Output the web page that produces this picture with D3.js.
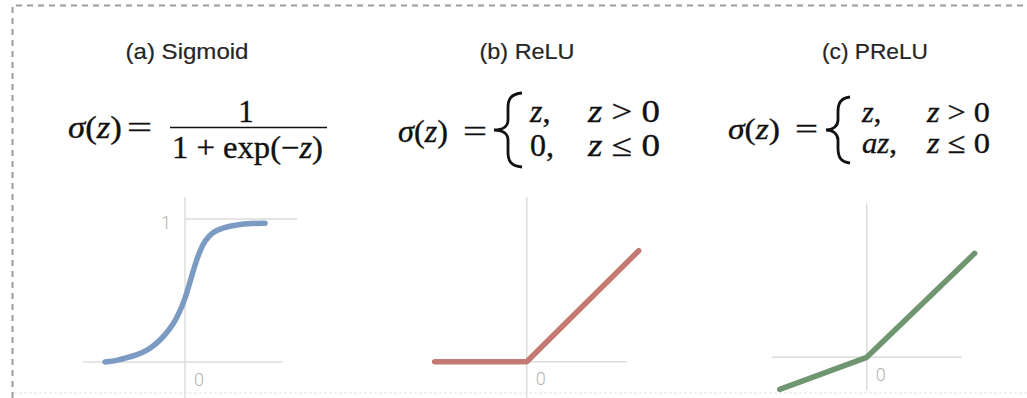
<!DOCTYPE html>
<html>
<head>
<meta charset="utf-8">
<script src="https://cdn.jsdelivr.net/npm/d3@7/dist/d3.min.js"></script>
<style>
  html, body { margin: 0; padding: 0; background: #fff; }
  svg { display: block; }
</style>
</head>
<body>
<script>
// Panel titles
const titles = ["(a) Sigmoid", "(b) ReLU", "(c) PReLU"];

// Sigmoid curve samples (z, σ(z))
const sigmoidZ   = [-4.0, -3.4, -2.9, -2.4, -1.9, -1.4, -1.0, -0.6, -0.3, 0.0, 0.25, 0.5, 0.75, 1.0, 1.4, 1.9, 2.6, 3.3, 4.0];
const sigmoidVal = [0.00, 0.01, 0.03, 0.05, 0.08, 0.13, 0.19, 0.26, 0.34, 0.44, 0.56, 0.68, 0.78, 0.85, 0.91, 0.94, 0.96, 0.97, 0.97];

// ReLU polyline (z, σ(z))
const reluZ   = [-4.6, 0, 5.6];
const reluVal = [0, 0, 5.55];

// PReLU polyline (z, σ(z)), slope a on the negative side
const preluZ   = [-4.35, 0, 5.4];
const preluVal = [-1.6, 0, 5.2];

// Axis tick labels
const sigmoidTicks = [{ v: 0, label: "0" }, { v: 1, label: "1" }];
const reluTicks = [{ v: 0, label: "0" }];
const preluTicks = [{ v: 0, label: "0" }];

const W = 1027, H = 398;
const svg = d3.select("body").append("svg").attr("width", W).attr("height", H);

// dashed frame around the figure
svg.append("path")
  .attr("d", `M12.5,${H} V5.5 H${W}`)
  .attr("fill", "none")
  .attr("stroke", "#9c9c9c")
  .attr("stroke-width", 2)
  .attr("stroke-dasharray", "6,5");
svg.append("line")
  .attr("x1", 14).attr("x2", W).attr("y1", 393).attr("y2", 393)
  .attr("stroke", "#eeeeee").attr("stroke-width", 1.5)
  .attr("stroke-dasharray", "3,2");

const titleFont = "'Liberation Sans', Arial, Helvetica, sans-serif";
const mathFont = "'Liberation Serif', 'Times New Roman', serif";
const tickFont = "Roboto, 'Open Sans', sans-serif";

// titles
const titleX = [187, 527, 875];
const titleW = [123, 95, 106];
titles.forEach((t, i) => {
  svg.append("text")
    .attr("x", titleX[i] - titleW[i] / 2).attr("y", 59)
    .attr("textLength", titleW[i]).attr("lengthAdjust", "spacingAndGlyphs")
    .attr("font-family", titleFont).attr("font-size", 21.5)
    .attr("fill", "#262626")
    .attr("stroke", "#262626").attr("stroke-width", 0.2)
    .text(t);
});

// helper: text made of pieces, italic where flagged
function mathText(x, y, size, parts, len) {
  const t = svg.append("text")
    .attr("x", x).attr("y", y)
    .attr("font-family", mathFont).attr("font-size", size)
    .attr("fill", "#111")
    .attr("stroke", "#111").attr("stroke-width", 0.35);
  if (len) t.attr("textLength", len).attr("lengthAdjust", "spacingAndGlyphs");
  parts.forEach(p => {
    t.append("tspan").attr("font-style", p[1] ? "italic" : "normal").text(p[0]);
  });
  return t;
}
const sigmaZ = [["σ", true], ["(", false], ["z", true], [")", false]];

function brace(cx, cy, h, w) {
  const p = `M${cx + w},${cy - h}
    C${cx + 2},${cy - h + 1} ${cx},${cy - h + 7} ${cx},${cy - h + 15}
    L${cx},${cy - 10}
    C${cx},${cy - 4} ${cx - 5},${cy} ${cx - w},${cy}
    C${cx - 5},${cy} ${cx},${cy + 4} ${cx},${cy + 10}
    L${cx},${cy + h - 15}
    C${cx},${cy + h - 7} ${cx + 2},${cy + h - 1} ${cx + w},${cy + h}`;
  svg.append("path").attr("d", p).attr("fill", "none")
    .attr("stroke", "#111").attr("stroke-width", 2.8);
}

// (a) sigmoid formula
mathText(68, 138, 31, sigmaZ, 54);
mathText(127, 138, 31, [["=", false]], 25);
mathText(246, 122, 31, [["1", false]]).attr("text-anchor", "middle");
svg.append("line").attr("x1", 170).attr("x2", 327).attr("y1", 127.5).attr("y2", 127.5)
  .attr("stroke", "#111").attr("stroke-width", 1.5);
mathText(172, 158, 31, [["1 + exp(−", false], ["z", true], [")", false]], 151);

// (b) ReLU formula
mathText(398, 142, 32, sigmaZ, 50);
mathText(463, 142, 32, [["=", false]], 24);
brace(508, 130, 37, 14);
mathText(530, 122, 32, [["z", true], [",", false]]);
mathText(588, 122, 32, [["z", true], [" > 0", false]], 72);
mathText(530, 156, 32, [["0,", false]]);
mathText(588, 156, 32, [["z", true], [" ≤ 0", false]], 72);

// (c) PReLU formula
mathText(728, 139, 30, sigmaZ, 52);
mathText(795, 139, 30, [["=", false]], 23);
brace(838, 130, 33, 12);
mathText(862, 122, 30, [["z", true], [",", false]]);
mathText(927, 122, 30, [["z", true], [" > 0", false]], 63);
mathText(862, 153, 30, [["az", true], [",", false]], 35);
mathText(927, 153, 30, [["z", true], [" ≤ 0", false]], 63);

// plots
const gridColor = "#dcdcdc";
const tickColor = "#b4b4b4";

function panel(cfg) {
  const x = d3.scaleLinear().domain([-5, 5]).range(cfg.xRange);
  const y = d3.scaleLinear().domain(cfg.yDomain).range(cfg.yRange);
  const g = svg.append("g");
  // horizontal axis
  g.append("line")
    .attr("x1", x(cfg.hExtent[0])).attr("x2", x(cfg.hExtent[1]))
    .attr("y1", y(0)).attr("y2", y(0))
    .attr("stroke", gridColor).attr("stroke-width", 1.4);
  // upper reference line
  if (cfg.topExtent) {
    g.append("line")
      .attr("x1", x(cfg.topExtent[0])).attr("x2", x(cfg.topExtent[1]))
      .attr("y1", y(1)).attr("y2", y(1))
      .attr("stroke", gridColor).attr("stroke-width", 1.4);
  }
  // vertical axis
  g.append("line")
    .attr("x1", x(0)).attr("x2", x(0))
    .attr("y1", y(cfg.vExtent[0])).attr("y2", y(cfg.vExtent[1]))
    .attr("stroke", gridColor).attr("stroke-width", 1.4);
  // tick labels
  cfg.ticks.forEach(t => {
    const tx = t.v === 0 ? x(0) + 14 : x(0) - 19;
    const ty = t.v === 0 ? y(0) + 17 : y(1) + 3;
    g.append("text")
      .attr("x", tx).attr("y", ty)
      .attr("text-anchor", "middle").attr("dominant-baseline", "central")
      .attr("font-family", tickFont).attr("font-weight", 300)
      .attr("font-size", 18).attr("fill", tickColor)
      .text(t.label);
  });
  // function curve
  const pts = cfg.zs.map((z, i) => [z, cfg.vs[i]]);
  g.append("path")
    .attr("d", d3.line().x(d => x(d[0])).y(d => y(d[1])).curve(cfg.curve)(pts))
    .attr("fill", "none")
    .attr("stroke", cfg.color).attr("stroke-width", 5.5)
    .attr("stroke-linecap", "round").attr("stroke-linejoin", "round");
}

panel({
  xRange: [85, 285], yDomain: [0, 1], yRange: [362, 219],
  hExtent: [-5.1, 4.9], topExtent: [0, 5.6], vExtent: [1.154, -0.26],
  ticks: sigmoidTicks, zs: sigmoidZ, vs: sigmoidVal,
  curve: d3.curveBasis, color: "#7b9bc3"
});
panel({
  xRange: [426.7, 626.7], yDomain: [0, 5], yRange: [361.7, 261.7],
  hExtent: [-4.7, 5.0], vExtent: [8.24, -1.9],
  ticks: reluTicks, zs: reluZ, vs: reluVal,
  curve: d3.curveLinear, color: "#c47a73"
});
panel({
  xRange: [766.7, 966.7], yDomain: [0, 5], yRange: [357.3, 257.3],
  hExtent: [-4.75, 4.75], vExtent: [7.7, -1.65],
  ticks: preluTicks, zs: preluZ, vs: preluVal,
  curve: d3.curveLinear, color: "#6f9670"
});
</script>
</body>
</html>
